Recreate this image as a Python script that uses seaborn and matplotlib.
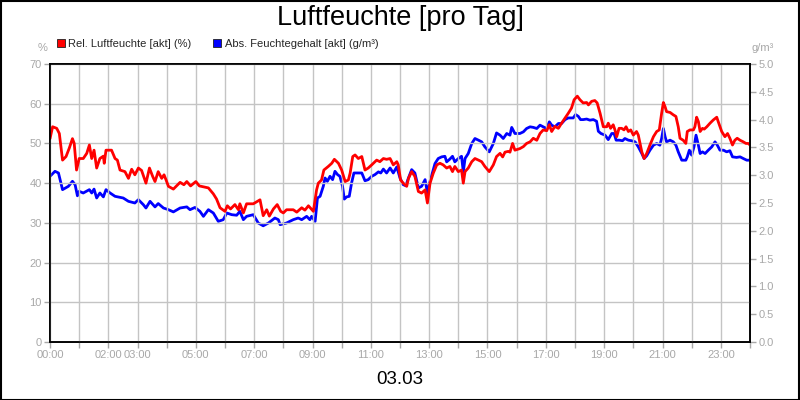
import matplotlib
matplotlib.use("Agg")
import matplotlib.pyplot as plt
from matplotlib.lines import Line2D
from matplotlib.patches import Rectangle
import seaborn as sns
import pandas as pd

# ---------------- data ----------------
rel_hours = [0.0, 0.09, 0.23, 0.32, 0.43, 0.55, 0.66, 0.77, 0.83, 0.91, 1.0, 1.14, 1.26, 1.35, 1.43,
             1.51, 1.6, 1.71, 1.83, 1.86, 1.92, 2.11, 2.23, 2.31, 2.4, 2.57, 2.69, 2.8, 2.91, 3.03,
             3.14, 3.29, 3.41, 3.52, 3.6, 3.71, 3.83, 3.91, 3.98, 4.06, 4.23, 4.34, 4.46, 4.59, 4.69,
             4.82, 5.0, 5.12, 5.31, 5.43, 5.6, 5.71, 5.83, 6.0, 6.08, 6.19, 6.34, 6.46, 6.51, 6.63,
             6.74, 6.97, 7.2, 7.31, 7.43, 7.52, 7.66, 7.79, 7.91, 8.0, 8.11, 8.34, 8.46, 8.63, 8.74,
             8.86, 9.03, 9.14, 9.2, 9.31, 9.39, 9.54, 9.66, 9.75, 9.89, 10.0, 10.12, 10.23, 10.29,
             10.38, 10.46, 10.57, 10.69, 10.8, 10.91, 11.03, 11.2, 11.31, 11.43, 11.54, 11.66, 11.77,
             11.89, 11.94, 12.02, 12.11, 12.23, 12.29, 12.4, 12.51, 12.63, 12.74, 12.86, 12.94, 13.03,
             13.14, 13.26, 13.37, 13.48, 13.6, 13.71, 13.8, 13.88, 14.0, 14.11, 14.17, 14.23, 14.34,
             14.46, 14.57, 14.69, 14.8, 14.91, 15.06, 15.2, 15.31, 15.43, 15.52, 15.6, 15.71, 15.77,
             15.86, 15.94, 16.11, 16.23, 16.34, 16.46, 16.57, 16.69, 16.8, 16.91, 17.03, 17.12, 17.2,
             17.31, 17.43, 17.54, 17.66, 17.77, 17.88, 17.97, 18.08, 18.17, 18.28, 18.4, 18.46, 18.57,
             18.68, 18.76, 18.86, 18.97, 19.09, 19.14, 19.22, 19.31, 19.37, 19.43, 19.51, 19.6, 19.68,
             19.75, 19.83, 19.91, 20.0, 20.11, 20.17, 20.29, 20.37, 20.46, 20.57, 20.69, 20.8, 20.89,
             20.97, 21.03, 21.09, 21.14, 21.26, 21.37, 21.46, 21.54, 21.6, 21.71, 21.8, 21.85, 21.94,
             22.06, 22.11, 22.17, 22.23, 22.29, 22.37, 22.43, 22.52, 22.63, 22.74, 22.86, 22.91, 23.03,
             23.14, 23.23, 23.31, 23.4, 23.48, 23.56, 23.66, 23.77, 23.86, 23.94, 24.0]
rel_values = [51.2, 54.2, 53.8, 52.5, 45.8, 46.7, 48.8, 51.2, 50.0, 43.3, 46.2, 46.2, 47.5, 49.6, 46.2,
              48.3, 43.8, 46.2, 46.8, 45.0, 48.3, 48.3, 46.2, 45.8, 43.3, 42.9, 41.2, 43.5, 42.1, 43.8,
              43.2, 40.0, 43.8, 41.7, 40.4, 42.9, 41.2, 42.1, 40.8, 39.2, 38.5, 39.3, 40.2, 39.6, 40.4,
              39.3, 40.4, 39.3, 39.0, 38.8, 37.3, 36.0, 33.8, 32.9, 34.3, 33.5, 34.6, 33.3, 34.8, 32.5,
              34.8, 34.8, 35.8, 31.8, 33.3, 31.7, 33.5, 34.6, 32.9, 32.5, 33.3, 33.3, 32.7, 33.8, 33.2,
              34.3, 32.9, 38.3, 40.0, 40.8, 43.3, 44.2, 45.0, 46.0, 45.0, 43.3, 40.4, 40.8, 42.5,
              46.7, 47.1, 46.2, 46.7, 43.3, 43.8, 44.6, 45.8, 45.4, 46.2, 46.0, 46.2, 44.6,
              45.4, 44.6, 40.8, 40.0, 39.2, 41.2, 42.9, 41.7, 37.9, 37.5, 38.3, 35.0, 40.0,
              42.5, 44.6, 45.0, 44.6, 43.8, 44.2, 42.9, 44.2, 42.9, 43.3, 40.0, 42.9, 43.8,
              45.4, 46.2, 45.8, 45.4, 44.2, 42.9, 44.6, 46.7, 47.5, 46.6, 47.8, 48.0, 47.8,
              50.0, 48.3, 48.7, 49.2, 50.0, 50.4, 51.3, 50.8, 52.5, 53.4, 53.2, 54.7, 53.0,
              54.3, 53.8, 55.1, 56.4, 57.6, 58.9, 61.0, 61.9, 61.0, 60.2, 60.3, 59.7, 60.6,
              60.8, 60.2, 57.6, 54.2, 54.2, 55.1, 53.8, 54.7, 53.4, 51.7, 53.8, 53.8, 53.4,
              54.2, 53.0, 53.4, 52.1, 53.0, 52.1, 47.9, 46.2, 47.5, 49.6, 51.7, 53.0, 53.4,
              57.6, 60.3, 59.2, 58.0, 57.8, 57.2, 56.8, 54.2, 51.3, 50.8, 50.0, 53.0, 53.4,
              53.4, 54.2, 56.6, 55.5, 53.0, 53.8, 53.6, 54.2, 55.1, 55.9, 56.6, 55.5, 53.0,
              51.7, 52.5, 51.3, 49.6, 50.8, 51.3, 50.8, 50.4, 50.0, 50.0, 49.6]

abs_hours = [0.0, 0.17, 0.29, 0.43, 0.63, 0.77, 0.86, 0.94, 1.0, 1.14, 1.35, 1.43, 1.51, 1.6, 1.71,
             1.83, 1.92, 2.06, 2.23, 2.51, 2.69, 2.91, 3.03, 3.2, 3.29, 3.43, 3.6, 3.71, 3.89, 4.06,
             4.23, 4.46, 4.69, 4.8, 4.97, 5.14, 5.26, 5.43, 5.6, 5.77, 5.94, 6.06, 6.23, 6.4, 6.51,
             6.63, 6.74, 6.97, 7.14, 7.31, 7.49, 7.71, 7.83, 7.89, 8.11, 8.34, 8.51, 8.63, 8.8, 8.91,
             8.97, 9.09, 9.17, 9.26, 9.37, 9.43, 9.51, 9.6, 9.69, 9.77, 9.86, 9.94, 10.03, 10.09,
             10.17, 10.26, 10.34, 10.42, 10.57, 10.69, 10.8, 10.91, 11.03, 11.14, 11.26, 11.34,
             11.43, 11.54, 11.66, 11.77, 11.89, 12.0, 12.11, 12.2, 12.29, 12.4, 12.51, 12.63, 12.74,
             12.86, 12.94, 13.03, 13.12, 13.2, 13.31, 13.43, 13.54, 13.6, 13.71, 13.8, 13.88, 14.0,
             14.11, 14.17, 14.23, 14.34, 14.46, 14.57, 14.69, 14.8, 14.91, 15.06, 15.2, 15.31, 15.43,
             15.54, 15.66, 15.77, 15.83, 15.94, 16.11, 16.23, 16.34, 16.46, 16.57, 16.69, 16.8, 16.91,
             17.03, 17.12, 17.2, 17.31, 17.43, 17.54, 17.66, 17.77, 17.88, 17.94, 18.02, 18.11, 18.19,
             18.28, 18.4, 18.51, 18.63, 18.74, 18.8, 18.89, 19.03, 19.14, 19.26, 19.34, 19.41, 19.52,
             19.63, 19.71, 19.83, 19.94, 20.06, 20.17, 20.29, 20.37, 20.46, 20.57, 20.69, 20.8, 20.91,
             20.97, 21.03, 21.09, 21.14, 21.26, 21.37, 21.46, 21.54, 21.66, 21.8, 21.85, 21.92, 22.0,
             22.08, 22.15, 22.23, 22.29, 22.37, 22.46, 22.57, 22.69, 22.8, 22.88, 22.97, 23.09, 23.2,
             23.31, 23.4, 23.54, 23.66, 23.77, 23.89, 24.0]
abs_values = [2.98, 3.07, 3.04, 2.74, 2.80, 2.89, 2.83, 2.63, 2.71, 2.68, 2.74, 2.68, 2.75, 2.59, 2.68,
              2.61, 2.74, 2.68, 2.62, 2.59, 2.53, 2.50, 2.56, 2.47, 2.41, 2.53, 2.43, 2.49, 2.41, 2.38,
              2.34, 2.41, 2.43, 2.38, 2.42, 2.35, 2.26, 2.38, 2.32, 2.17, 2.20, 2.32, 2.29, 2.28, 2.35,
              2.20, 2.26, 2.29, 2.14, 2.09, 2.14, 2.23, 2.20, 2.11, 2.14, 2.20, 2.23, 2.20, 2.26, 2.20,
              2.26, 2.17, 2.59, 2.62, 2.80, 2.95, 2.89, 2.98, 2.92, 3.07, 3.01, 2.98, 2.80, 2.57,
              2.61, 2.62, 2.86, 3.04, 3.04, 3.04, 2.90, 2.92, 2.98, 3.01, 3.06, 3.04,
              3.11, 3.04, 3.13, 3.04, 3.15, 2.95, 2.83, 2.81, 2.95, 3.10, 3.04, 2.77, 2.80,
              2.92, 2.68, 2.89, 3.06, 3.21, 3.30, 3.33, 3.34, 3.24, 3.29, 3.34, 3.24, 3.30,
              3.34, 3.06, 3.30, 3.39, 3.57, 3.66, 3.63, 3.60, 3.51, 3.42, 3.57, 3.76, 3.72,
              3.66, 3.75, 3.72, 3.86, 3.75, 3.75, 3.78, 3.84, 3.87, 3.86, 3.84, 3.90, 3.87,
              3.84, 3.96, 3.90, 3.87, 3.93, 3.93, 4.00, 4.03, 4.03, 4.03, 4.09, 4.06, 4.00,
              4.00, 4.01, 3.99, 4.00, 3.97, 3.79, 3.75, 3.72, 3.64, 3.75, 3.75, 3.63, 3.63,
              3.62, 3.66, 3.63, 3.62, 3.60, 3.51, 3.39, 3.30, 3.35, 3.45, 3.54, 3.57, 3.54,
              3.66, 3.84, 3.69, 3.60, 3.63, 3.60, 3.54, 3.42, 3.27, 3.27, 3.33, 3.45, 3.36,
              3.51, 3.72, 3.54, 3.39, 3.42, 3.39, 3.45, 3.51, 3.60, 3.54, 3.45, 3.45, 3.42,
              3.44, 3.33, 3.32, 3.33, 3.30, 3.27, 3.27]

hour_ticks = list(range(25))
hour_labels = ["00:00", "", "02:00", "03:00", "", "05:00", "", "07:00", "", "09:00", "", "11:00", "",
               "13:00", "", "15:00", "", "17:00", "", "19:00", "", "21:00", "", "23:00", ""]
left_ticks = [0, 10, 20, 30, 40, 50, 60, 70]
right_ticks = [0.0, 0.5, 1.0, 1.5, 2.0, 2.5, 3.0, 3.5, 4.0, 4.5, 5.0]

title = "Luftfeuchte [pro Tag]"
date_label = "03.03"
rel_name = "Rel. Luftfeuchte [akt] (%)"
abs_name = "Abs. Feuchtegehalt [akt] (g/m³)"

# ---------------- style ----------------
sns.set_theme(style="white")
plt.rcParams['font.family'] = ['Liberation Sans', 'DejaVu Sans']

GRAY = "#a8a8a8"
GRID = "#c4c4c4"

fig = plt.figure(figsize=(8, 4), dpi=100, facecolor="white")
ax = fig.add_axes([50/800, 58/400, 700/800, 278/400])
ax2 = ax.twinx()

df_rel = pd.DataFrame({"h": rel_hours, "v": rel_values})
df_abs = pd.DataFrame({"h": abs_hours, "v": abs_values})

sns.lineplot(data=df_abs, x="h", y="v", ax=ax2, color="#0000ff", linewidth=2)
sns.lineplot(data=df_rel, x="h", y="v", ax=ax, color="#ff0000", linewidth=2)
ax.set_zorder(ax2.get_zorder() + 1)
ax.patch.set_visible(False)

ax.set_xlim(0, 24)
ax.set_ylim(0, 70)
ax2.set_ylim(0, 5)
ax.set_xticks(hour_ticks)
ax.set_xticklabels(hour_labels)
ax.set_yticks(left_ticks)
ax.set_yticklabels([str(t) for t in left_ticks])
ax2.set_yticks(right_ticks)
ax2.set_yticklabels([f"{t:.1f}" for t in right_ticks])

ax.grid(True, color=GRID, linewidth=1)
ax2.grid(False)
ax.set_xlabel("")
ax.set_ylabel("")
ax2.set_ylabel("")

for a in (ax, ax2):
    for s in a.spines.values():
        s.set_color("black")
        s.set_linewidth(1.2)
ax.tick_params(axis="both", colors=GRAY, labelsize=8, length=4, width=1, direction="out", pad=2)
ax2.tick_params(axis="y", colors=GRAY, labelsize=8, length=4, width=1, direction="out", pad=2)
ax.tick_params(axis="y", left=True)
ax.tick_params(axis="x", bottom=True)

# texts
fig.text(0.5, 1 - 18/400, title, ha="center", va="center", fontsize=19.5, color="black")
fig.text(0.5, 1 - 380/400, date_label, ha="center", va="center", fontsize=13.5, color="black")
fig.text(43/800, 1 - 48/400, "%", ha="center", va="center", fontsize=8, color=GRAY)
fig.text(763/800, 1 - 48/400, "g/m³", ha="center", va="center", fontsize=8, color=GRAY)

handles = [Line2D([], [], linestyle="none", marker="s", markersize=6, markerfacecolor="#ff0000",
                  markeredgecolor="#202020", markeredgewidth=0.6),
           Line2D([], [], linestyle="none", marker="s", markersize=6, markerfacecolor="#0000ff",
                  markeredgecolor="#202020", markeredgewidth=0.6)]
fig.legend(handles, [rel_name, abs_name], loc="center left", bbox_to_anchor=(57/800, 1 - 44/400),
           ncol=2, frameon=False, fontsize=8, handlelength=0.7, handletextpad=0.3,
           columnspacing=2.0, borderpad=0, borderaxespad=0)

fig.patches.append(Rectangle((0.001, 0.001), 0.998, 0.997, transform=fig.transFigure,
                             fill=False, edgecolor="black", linewidth=1.5))

fig.savefig("out.png", dpi=100, facecolor="white")
